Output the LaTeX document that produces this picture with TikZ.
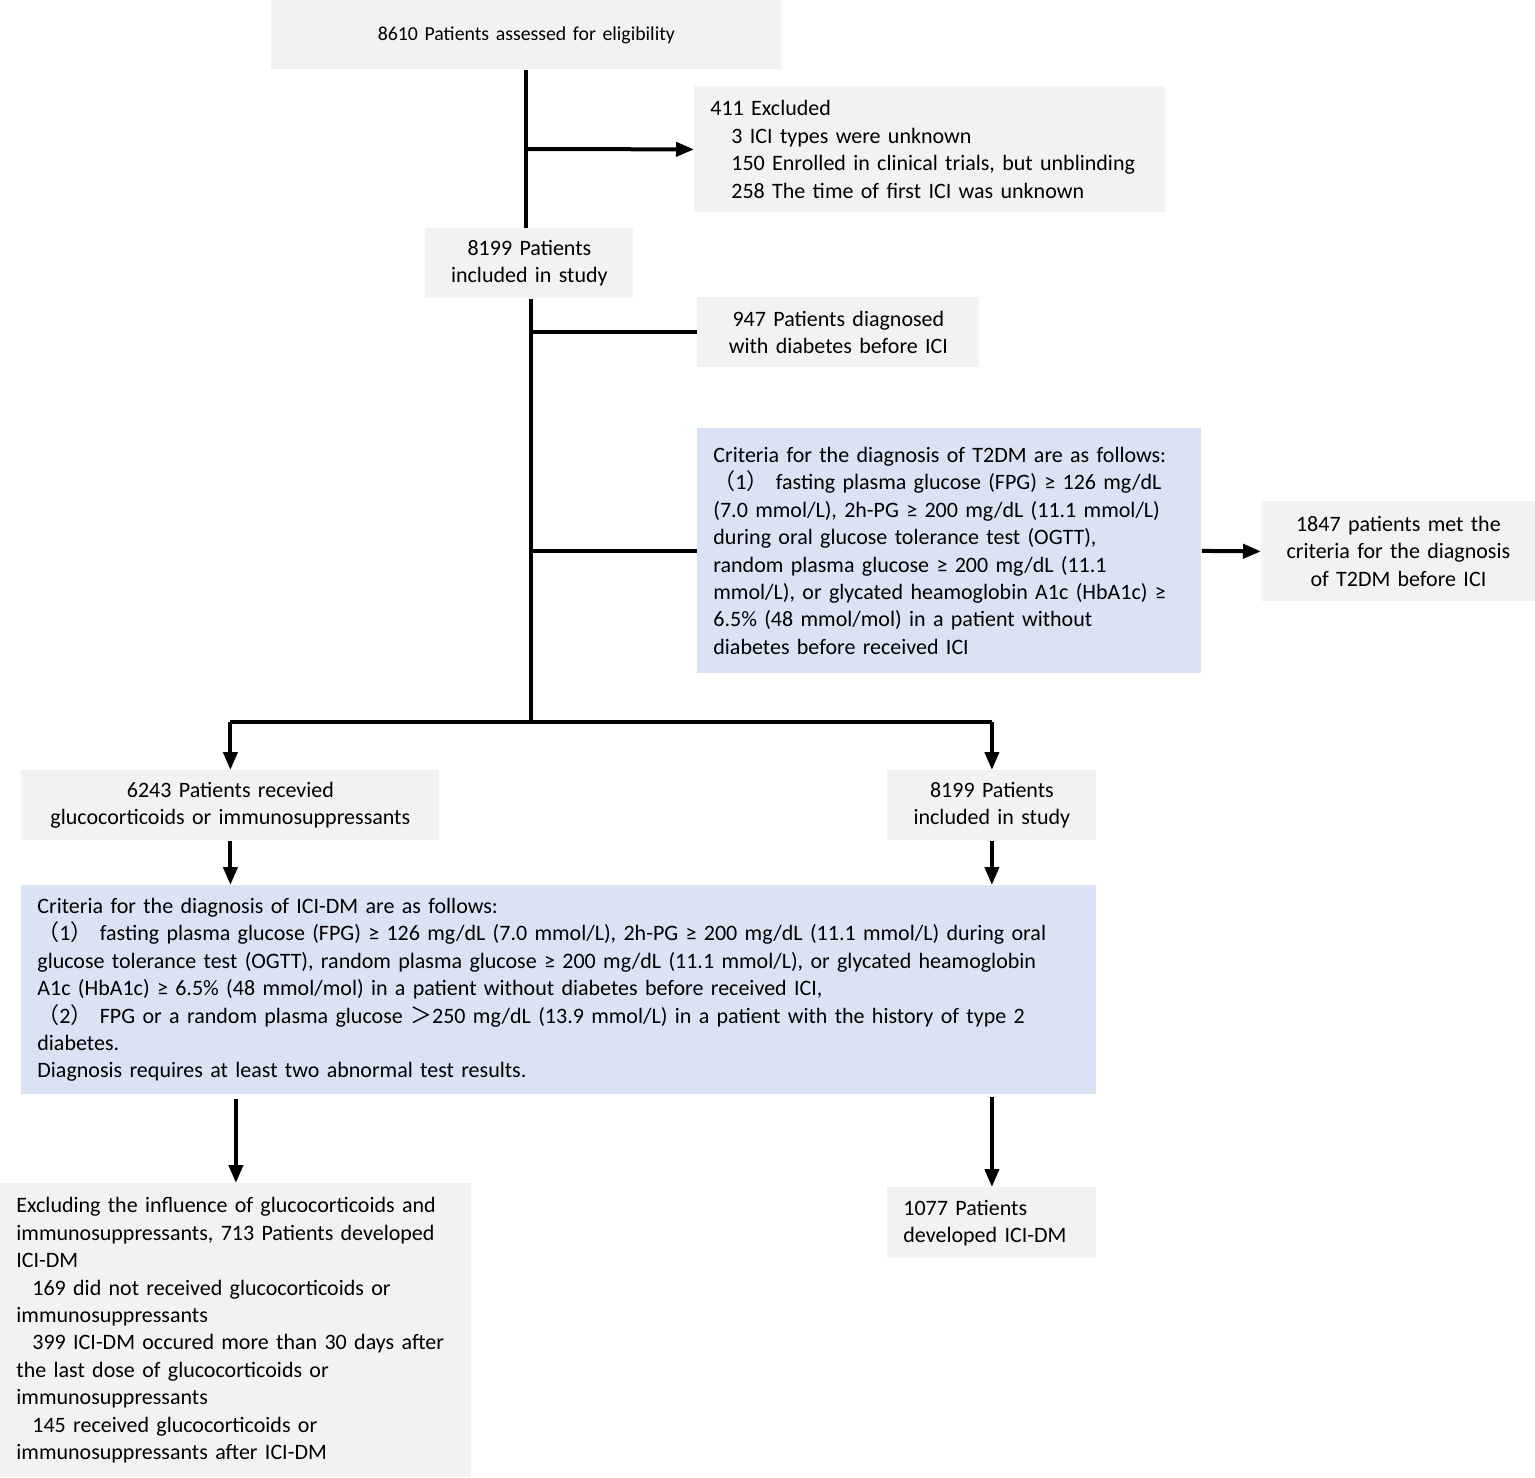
\documentclass[tikz,border=0pt]{standalone}
\usepackage{fontspec}
\setmainfont{Carlito}
\newfontfamily\cjk{Noto Sans CJK SC}
\usetikzlibrary{arrows.meta}
\definecolor{boxgray}{HTML}{F2F2F2}
\definecolor{boxblue}{HTML}{DAE3F3}
\newcommand{\fp}[1]{{\cjk （}#1{\cjk ）}}
\begin{document}
\begin{tikzpicture}[x=0.5pt,y=-0.5pt,
  basebox/.style={anchor=north west, inner ysep=0pt, inner xsep=8pt,
    font=\fontsize{11pt}{13.7pt}\selectfont},
  gbox/.style={basebox, fill=boxgray},
  bbox/.style={basebox, fill=boxblue},
  conn/.style={line width=2pt},
  arr/.style={line width=2pt, -{Triangle[width=7pt,length=9pt]}}]
\useasboundingbox (0,0) rectangle (1535,1477);
% boxes
\node[gbox, minimum width=255pt, minimum height=34.5pt, text width=239pt, align=center,
  font=\fontsize{9.9pt}{12pt}\selectfont] (top) at (271,0) {8610 Patients assessed for eligibility};
\node[gbox, minimum width=235.5pt, minimum height=63pt, text width=219.5pt, align=left] (excl) at (694,86)
  {411 Excluded\\
   \hspace*{10.5pt}3 ICI types were unknown\\
   \hspace*{10.5pt}150 Enrolled in clinical trials, but unblinding\\
   \hspace*{10.5pt}258 The time of first ICI was unknown};
\node[gbox, minimum width=104pt, minimum height=35pt, text width=88pt, align=center] (incl) at (425,228)
  {8199 Patients\\included in study};
\node[gbox, minimum width=141pt, minimum height=35pt, text width=125pt, align=center] (diab) at (697,297)
  {947 Patients diagnosed\\with diabetes before ICI};
\node[bbox, minimum width=252pt, minimum height=122.5pt, text width=236pt, align=left] (t2dm) at (697,428)
  {\mbox{Criteria for the diagnosis of T2DM are as follows:}\\
   \mbox{\fp{1} fasting plasma glucose (FPG) ≥ 126 mg/dL}\\
   \mbox{(7.0 mmol/L), 2h-PG ≥ 200 mg/dL (11.1 mmol/L)}\\
   \mbox{during oral glucose tolerance test (OGTT),}\\
   \mbox{random plasma glucose ≥ 200 mg/dL (11.1}\\
   \mbox{mmol/L), or glycated heamoglobin A1c (HbA1c) ≥}\\
   \mbox{6.5\% (48 mmol/mol) in a patient without}\\
   \mbox{diabetes before received ICI}};
\node[gbox, minimum width=137pt, minimum height=50pt, text width=121pt, align=center] (met) at (1261,501)
  {1847 patients met the\\criteria for the diagnosis\\of T2DM before ICI};
\node[gbox, minimum width=209pt, minimum height=35pt, text width=193pt, align=center] (gluco) at (21,770)
  {6243 Patients recevied\\glucocorticoids or immunosuppressants};
\node[gbox, minimum width=104.5pt, minimum height=35pt, text width=88.5pt, align=center] (incl2) at (887,770)
  {8199 Patients\\included in study};
\node[bbox, minimum width=537.5pt, minimum height=104.5pt, text width=521.5pt, align=left] (ici) at (21,885)
  {\mbox{Criteria for the diagnosis of ICI-DM are as follows:}\\
   \mbox{\fp{1} fasting plasma glucose (FPG) ≥ 126 mg/dL (7.0 mmol/L), 2h-PG ≥ 200 mg/dL (11.1 mmol/L) during oral}\\
   \mbox{glucose tolerance test (OGTT), random plasma glucose ≥ 200 mg/dL (11.1 mmol/L), or glycated heamoglobin}\\
   \mbox{A1c (HbA1c) ≥ 6.5\% (48 mmol/mol) in a patient without diabetes before received ICI,}\\
   \mbox{\fp{2} FPG or a random plasma glucose {\cjk ＞}250 mg/dL (13.9 mmol/L) in a patient with the history of type 2}\\
   \mbox{diabetes.}\\
   \mbox{Diagnosis requires at least two abnormal test results.}};
\node[gbox, minimum width=235.5pt, minimum height=147pt, text width=219.5pt, align=left] (excl2) at (0,1183)
  {\mbox{Excluding the influence of glucocorticoids and}\\
   \mbox{immunosuppressants, 713 Patients developed}\\
   \mbox{ICI-DM}\\
   \mbox{\hspace*{8pt}169 did not received glucocorticoids or}\\
   \mbox{immunosuppressants}\\
   \mbox{\hspace*{8pt}399 ICI-DM occured more than 30 days after}\\
   \mbox{the last dose of glucocorticoids or}\\
   \mbox{immunosuppressants}\\
   \mbox{\hspace*{8pt}145 received glucocorticoids or}\\
   \mbox{immunosuppressants after ICI-DM}};
\node[gbox, minimum width=104.5pt, minimum height=35.5pt, text width=88.5pt, align=left] (dev) at (887,1187)
  {1077 Patients\\developed ICI-DM};
% junction points
\coordinate (j1) at (526,149);
\coordinate (hub) at (531,722);
% connectors
\draw[conn] (top.south) -- (top.south |- incl.north);
\draw[arr] (j1) -- (excl.west);
\draw[conn] (incl.south -| hub) -- (hub);
\draw[conn] (hub |- diab.west) -- (diab.west);
\draw[conn] (hub |- t2dm.west) -- (t2dm.west);
\draw[arr] (t2dm.east) -- (met.west);
\draw[conn] (gluco.north |- hub) -- (incl2.north |- hub);
\draw[arr] (gluco.north |- hub) -- (gluco.north);
\draw[arr] (incl2.north |- hub) -- (incl2.north);
\draw[arr] (gluco.south) -- (gluco.south |- ici.north);
\draw[arr] (incl2.south) -- (incl2.south |- ici.north);
\draw[arr] ([yshift=-2pt]excl2.north |- ici.south) -- (excl2.north);
\draw[arr] ([yshift=-1pt]dev.north |- ici.south) -- (dev.north);
\end{tikzpicture}
\end{document}
